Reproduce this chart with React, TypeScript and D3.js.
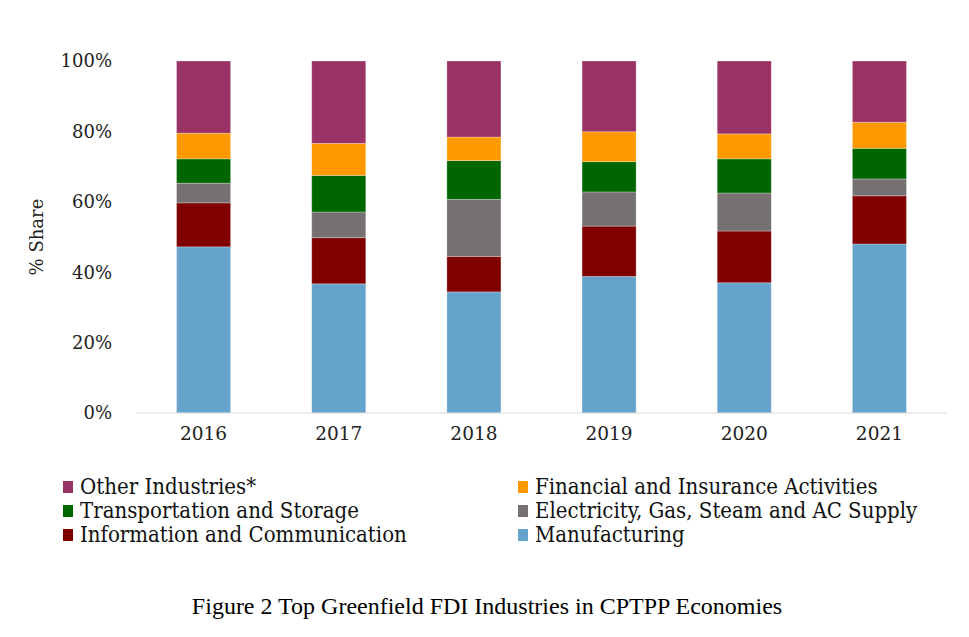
import React, { useEffect, useRef } from 'react';
import * as d3 from 'd3';

const years = ['2016', '2017', '2018', '2019', '2020', '2021'];
const manufacturing = [47.2, 36.7, 34.4, 38.8, 37.0, 48.0];
const infoComm = [12.5, 13.1, 10.1, 14.3, 14.7, 13.7];
const electricity = [5.6, 7.3, 16.2, 9.7, 10.8, 4.8];
const transport = [6.9, 10.4, 11.0, 8.6, 9.7, 8.7];
const financial = [7.3, 9.1, 6.7, 8.5, 7.1, 7.4];
const other = [20.5, 23.4, 21.6, 20.1, 20.7, 17.4];

const seriesNames = [
  'Manufacturing',
  'Information and Communication',
  'Electricity, Gas, Steam and AC Supply',
  'Transportation and Storage',
  'Financial and Insurance Activities',
  'Other Industries*',
];
const seriesValues = [manufacturing, infoComm, electricity, transport, financial, other];
const colors = ['#65a3cd', '#800000', '#767171', '#006600', '#ff9900', '#993366'];
const yTicks = [0, 20, 40, 60, 80, 100];

// legend order as in the figure (two columns)
const legendOrder = [5, 4, 3, 2, 1, 0];

export default function App() {
  const ref = useRef<SVGSVGElement | null>(null);

  useEffect(() => {
    document.body.style.margin = '0';
    const svg = d3.select(ref.current);
    svg.selectAll('*').remove();
    const width = 969, height = 637;
    const margin = { top: 61, left: 136, right: 22, bottom: 224 };
    const font = '"DejaVu Serif", serif';
    const capFont = '"Liberation Serif", serif';

    const x = d3.scaleBand().domain(years).range([margin.left, width - margin.right])
      .paddingInner(0.6).paddingOuter(0.3);
    const y = d3.scaleLinear().domain([0, 100]).range([height - margin.bottom, margin.top]);

    const rows = years.map((yr, i) => {
      const r: any = { year: yr };
      seriesNames.forEach((n, j) => { r[n] = seriesValues[j][i]; });
      return r;
    });
    const stack = d3.stack().keys(seriesNames)(rows);

    svg.attr('viewBox', `0 0 ${width} ${height}`).attr('width', width).attr('height', height);
    svg.append('rect').attr('width', width).attr('height', height).attr('fill', '#fff');

    svg.append('g').selectAll('g').data(stack).join('g')
      .attr('fill', (_d, i) => colors[i])
      .selectAll('rect').data(d => d).join('rect')
      .attr('x', (d: any) => x(d.data.year)!)
      .attr('width', x.bandwidth())
      .attr('y', d => y(d[1]))
      .attr('height', d => y(d[0]) - y(d[1]))
      .attr('stroke', '#ffffff')
      .attr('stroke-opacity', 0.35)
      .attr('stroke-width', 0.8);

    // baseline
    svg.append('line')
      .attr('x1', margin.left).attr('x2', width - margin.right)
      .attr('y1', y(0)).attr('y2', y(0))
      .attr('stroke', '#d9d9d9').attr('stroke-width', 1.2);

    // y tick labels
    svg.append('g').selectAll('text').data(yTicks).join('text')
      .attr('x', 112).attr('y', d => y(d))
      .attr('dy', '0.35em')
      .attr('text-anchor', 'end')
      .attr('font-family', font).attr('font-size', 18).attr('fill', '#222')
      .text(d => `${d}%`);

    // x tick labels
    svg.append('g').selectAll('text').data(years).join('text')
      .attr('x', d => x(d)! + x.bandwidth() / 2).attr('y', y(0) + 27)
      .attr('text-anchor', 'middle')
      .attr('font-family', font).attr('font-size', 18.5).attr('fill', '#222')
      .text(d => d);

    // y axis title
    svg.append('text')
      .attr('transform', `translate(43,${(y(0) + y(100)) / 2}) rotate(-90)`)
      .attr('text-anchor', 'middle')
      .attr('font-family', font).attr('font-size', 18).attr('fill', '#222')
      .text('% Share');

    // legend
    const lg = svg.append('g');
    legendOrder.forEach((si, k) => {
      const col = k % 2, row = Math.floor(k / 2);
      const lx = col === 0 ? 63 : 518;
      const ly = 494 + row * 24;
      lg.append('rect').attr('x', lx).attr('y', ly - 13).attr('width', 10).attr('height', 12)
        .attr('fill', colors[si]);
      lg.append('text').attr('x', lx + 17).attr('y', ly)
        .attr('font-family', font).attr('font-stretch', 'condensed')
        .attr('font-size', 22).attr('fill', '#111')
        .text(seriesNames[si]);
    });

    // caption
    svg.append('text')
      .attr('x', 487).attr('y', 614)
      .attr('text-anchor', 'middle')
      .attr('font-family', capFont).attr('font-size', 24).attr('fill', '#000')
      .text('Figure 2 Top Greenfield FDI Industries in CPTPP Economies');
  }, []);

  return <svg ref={ref} style={{ display: 'block' }} />;
}
